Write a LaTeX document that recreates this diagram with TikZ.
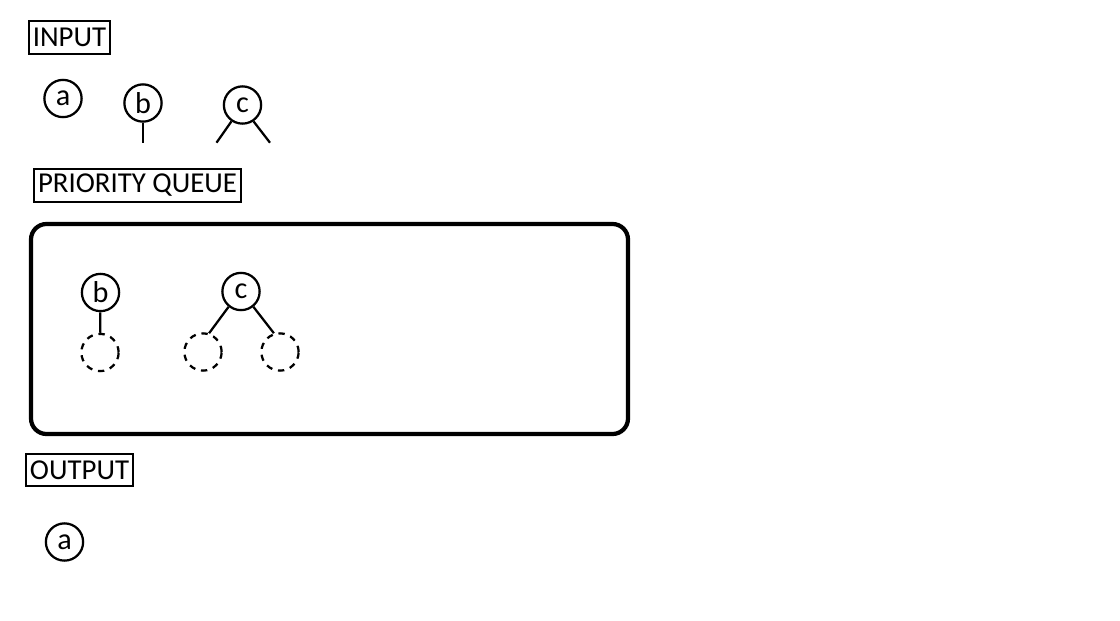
\documentclass[tikz,border=0pt]{standalone}
\usepackage{fontspec}
\setmainfont{Carlito}
\usepackage{tikz}
\tikzset{
    tagbox/.style={draw, line width=1.6pt, inner xsep=3pt, inner ysep=0pt, minimum height=23pt, font=\fontsize{20.5pt}{24pt}\selectfont},
    pqnode/.style={circle, draw, line width=1.6pt, inner sep=0pt, minimum size=26.5pt, font=\fontsize{21.5pt}{26pt}\selectfont},
    holenode/.style={pqnode, dashed, dash pattern=on 4.5pt off 4.2pt},
    link/.style={line width=1.6pt}
}

\begin{document}
\begin{tikzpicture}[x=0.025cm, y=-0.025cm]
    \useasboundingbox (0,0) rectangle (1120,620);

    % Input
    \node[tagbox] (inlbl) at (69.5,37.5) {INPUT};
    \node[pqnode] (ina) at (63,98.5) {a};
    \node[pqnode] (inb) at (143,103) {b};
    \node[pqnode] (inc) at (242.5,105) {c};
    \coordinate (inbend) at (143,142.7);
    \coordinate (incleft) at (216.5,142.7);
    \coordinate (incright) at (270,142.7);
    \draw[link] (inb) -- (inbend);
    \draw[link] (inc.236) -- (incleft);
    \draw[link] (inc.304) -- (incright);

    % Priority queue
    \node[tagbox] (pqlbl) at (137.5,185.5) {PRIORITY QUEUE};
    \draw[line width=3pt, rounded corners=11pt] (31,224) rectangle (628,434);
    \node[pqnode] (qb) at (100.5,292.5) {b};
    \node[holenode] (qbh) at (100,352.5) {};
    \node[pqnode] (qc) at (241,291.5) {c};
    \node[holenode] (qcl) at (203,352) {};
    \node[holenode] (qcr) at (280,352) {};
    \draw[link] (qb) -- (qbh);
    \draw[link] (qc.231) -- (qcl.72);
    \draw[link] (qc.309) -- (qcr.108);

    % Output
    \node[tagbox] (outlbl) at (79.5,470) {OUTPUT};
    \node[pqnode] (outa) at (64.5,542) {a};
\end{tikzpicture}
\end{document}
